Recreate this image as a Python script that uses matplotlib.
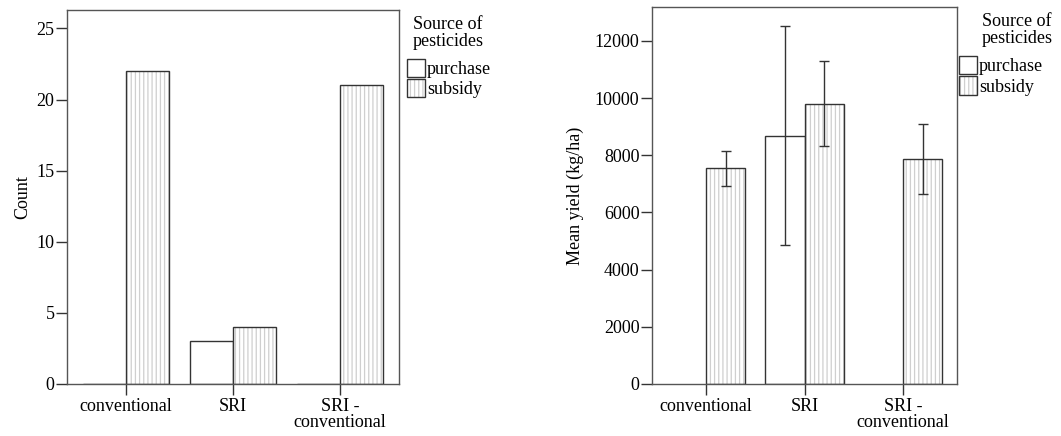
import numpy as np
import matplotlib.pyplot as plt

# categorias de cultivo e fonte dos pesticidas
categorias = ['conventional', 'SRI', 'SRI -\nconventional']
fontes = ['purchase', 'subsidy']

# contagem de agricultores
count_purchase = [0, 3, 0]
count_subsidy = [22, 4, 21]

# produtividade media (kg/ha) e intervalo de confianca
yield_purchase = [np.nan, 8690, np.nan]
yield_purchase_lo = [np.nan, 4860, np.nan]
yield_purchase_hi = [np.nan, 12520, np.nan]
yield_subsidy = [7550, 9810, 7880]
yield_subsidy_lo = [6940, 8340, 6660]
yield_subsidy_hi = [8160, 11290, 9110]

plt.rcParams['font.family'] = ['Liberation Serif', 'DejaVu Serif']
plt.rcParams['font.size'] = 13
plt.rcParams['hatch.linewidth'] = 0.9

fig = plt.figure(figsize=(10.61, 4.36), dpi=100)
ax1 = fig.add_axes([0.0631, 0.1193, 0.3129, 0.8578])
ax2 = fig.add_axes([0.6145, 0.1193, 0.2875, 0.8647])

x = np.arange(len(categorias))
w = 0.4
borda = '#333333'
pontilhado = '#cfcfcf'


def barras(ax, v1, v2):
    b1 = ax.bar(x - w / 2, v1, w, color='white', edgecolor=borda, linewidth=1.0)
    # hachura clara primeiro, contorno escuro por cima
    h2 = ax.bar(x + w / 2, v2, w, color='white', edgecolor=pontilhado,
                linewidth=0, hatch='||||')
    b2 = ax.bar(x + w / 2, v2, w, fill=False, edgecolor=borda, linewidth=1.0)
    return b1, (h2, b2)


def estilo(ax, ylabel, handles, xt, xl, pad):
    ax.set_xlim(-0.55, 2.55)
    ax.set_xticks(x)
    ax.set_xticklabels(categorias, linespacing=0.9)
    ax.set_ylabel(ylabel, labelpad=pad)
    for s in ax.spines.values():
        s.set_color('#555555')
        s.set_linewidth(1.0)
    ax.tick_params(direction='out', length=8, width=1.0, color='#333333', pad=1)
    ax.tick_params(axis='x', pad=2)
    ax.text(xt, 0.985, 'Source of\npesticides', transform=ax.transAxes,
            ha='center', va='top', linespacing=1.0)
    ax.legend(handles, fontes, loc='upper left', bbox_to_anchor=(xl, 0.87),
              frameon=False, handlelength=1.0, handleheight=1.2,
              handletextpad=0.1, labelspacing=0.05, borderaxespad=0,
              borderpad=0)


# grafico da esquerda: contagem
hs = barras(ax1, count_purchase, count_subsidy)
ax1.set_ylim(0, 26.3)
ax1.set_yticks([0, 5, 10, 15, 20, 25])
estilo(ax1, 'Count', hs, 1.148, 1.024, 4)

# grafico da direita: produtividade media com barras de erro
hs = barras(ax2, yield_purchase, yield_subsidy)
yp = np.array(yield_purchase)
ys = np.array(yield_subsidy)
err_p = [yp - np.array(yield_purchase_lo), np.array(yield_purchase_hi) - yp]
err_s = [ys - np.array(yield_subsidy_lo), np.array(yield_subsidy_hi) - ys]
ax2.errorbar(x - w / 2, yp, yerr=err_p, fmt='none', ecolor=borda,
             elinewidth=1.0, capsize=3.5, capthick=1.0)
ax2.errorbar(x + w / 2, ys, yerr=err_s, fmt='none', ecolor=borda,
             elinewidth=1.0, capsize=3.5, capthick=1.0)
ax2.set_ylim(0, 13190)
ax2.set_yticks([0, 2000, 4000, 6000, 8000, 10000, 12000])
estilo(ax2, 'Mean yield (kg/ha)', hs, 1.197, 1.007, 8)

plt.savefig('out.png', dpi=100)
